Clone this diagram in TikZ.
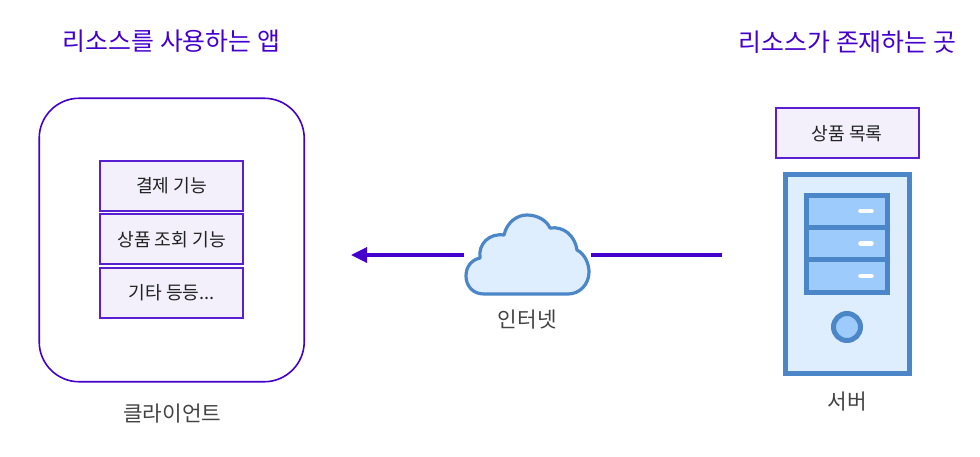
\documentclass[tikz,border=0pt]{standalone}
\usepackage{fontspec}
\setmainfont{Noto Sans CJK KR}
\usetikzlibrary{arrows.meta}
\definecolor{vio}{HTML}{4400CC}
\definecolor{vioLine}{HTML}{5A1FD1}
\definecolor{vioFill}{HTML}{F3F0FB}
\definecolor{srvBlue}{HTML}{4A86C8}
\definecolor{srvPale}{HTML}{DFEEFF}
\definecolor{srvMid}{HTML}{9CCBFC}
\definecolor{txtDark}{HTML}{222222}
\definecolor{txtGray}{HTML}{444444}
\newcommand{\lowered}[1]{\raisebox{-1.5pt}{#1}}
\tikzset{
  x=1pt,y=-1pt,
  heading/.style={text=vio,font=\fontsize{24.9}{28}\selectfont,inner sep=0pt},
  caption/.style={text=txtGray,font=\fontsize{21.3}{24}\selectfont,inner sep=0pt},
  featbox/.style={draw=vioLine,fill=vioFill,line width=1.8pt,minimum width=143pt,minimum height=50pt,inner sep=0pt,text=txtDark,font=\fontsize{18.2}{22}\selectfont},
  link/.style={draw=vio,line width=3.4pt},
  srv/.style={draw=srvBlue,line width=5pt},
}
\begin{document}
\begin{tikzpicture}
\useasboundingbox (0,0) rectangle (980,456);
\node[heading] (appTitle) at (171.5,41.5) {리소스를 사용하는 앱};
\node[heading] (srcTitle) at (847.5,42) {리소스가 존재하는 곳};

\node[draw=vio,fill=white,line width=1.6pt,rounded corners=40pt,minimum width=265pt,minimum height=283.5pt,inner sep=0pt] (client) at (171.7,240) {};
\node[featbox] (f1) at (171.7,185.6) {\lowered{결제 기능}};
\node[featbox] (f2) at (171.7,239.2) {\lowered{상품 조회 기능}};
\node[featbox] (f3) at (171.7,292.8) {\lowered{기타 등등...}};
\node[caption] (clientCap) at (172.3,414) {클라이언트};

\coordinate (cloudL) at (464,255);
\coordinate (cloudR) at (591,255);
\coordinate (arrowEnd) at (351,255);
\coordinate (lineStart) at (722,255);
\draw[link,-{Triangle[length=16pt,width=15pt]}] (cloudL) -- (arrowEnd);
\draw[link] (lineStart) -- (cloudR);

\draw[draw=srvBlue,fill=srvPale,line width=3.2pt,line join=round]
  (484,294)
  .. controls (472,294) and (466,285) .. (466,276)
  .. controls (466,267) and (471,260) .. (480,258)
  .. controls (478,244) and (489,233) .. (504,235)
  .. controls (507,222) and (517,215) .. (527,215)
  .. controls (538,215) and (547,221) .. (550,228)
  .. controls (564,226) and (575,236) .. (577,250)
  .. controls (585,254) and (589,264) .. (589,272)
  .. controls (589,284) and (580,294) .. (568,294)
  -- cycle;
\node[caption] (netCap) at (527.3,320) {인터넷};

\node[featbox] (catalog) at (847.2,133.3) {\lowered{상품 목록}};

\draw[srv,fill=srvPale] (785.5,174) rectangle (909.5,373.5);
\draw[srv,fill=srvMid] (806.5,195) rectangle (887.5,227);
\draw[srv,fill=srvMid] (806.5,227) rectangle (887.5,259.5);
\draw[srv,fill=srvMid] (806.5,259.5) rectangle (887.5,292);
\foreach \yy in {211,243.5,276}{
  \draw[white,line width=4.6pt,line cap=round] (860.5,\yy) -- (871.5,\yy);
}
\draw[srv,fill=srvMid] (847,327) circle (13.5);
\node[caption] (srvCap) at (847.3,402) {서버};
\end{tikzpicture}
\end{document}
